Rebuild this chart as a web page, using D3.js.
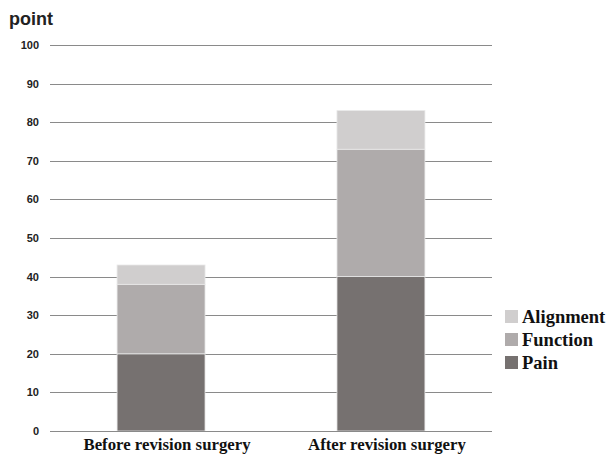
<!DOCTYPE html>
<html><head><meta charset="utf-8">
<script src="https://cdn.jsdelivr.net/npm/d3@7"></script>
<style>body{margin:0;background:#fff}svg{display:block}</style>
</head><body>
<svg id="c" width="608" height="455"></svg>
<script>
const categories = ["Before revision surgery", "After revision surgery"];
const seriesNames = ["Pain", "Function", "Alignment"];
const pain = [20, 40];
const func = [18, 33];
const alignment = [5, 10];
const yTicks = [0,10,20,30,40,50,60,70,80,90,100];
const colors = {"Pain":"#767170","Function":"#AFABAB","Alignment":"#D0CECE"};

const svg = d3.select("#c");
const x0 = 50, x1 = 492;
const y = d3.scaleLinear().domain([0,100]).range([431,45]);
const x = d3.scaleBand().domain(categories).range([x0,x1]).paddingInner(0.6).paddingOuter(0.305);

const rows = categories.map((c,i)=>({cat:c, Pain:pain[i], Function:func[i], Alignment:alignment[i]}));
const stacked = d3.stack().keys(seriesNames)(rows);

// grid
svg.append("g").selectAll("line").data(yTicks).join("line")
  .attr("x1",x0).attr("x2",x1).attr("y1",d=>Math.round(y(d))+0.5).attr("y2",d=>Math.round(y(d))+0.5)
  .attr("stroke","#8a8a8a").attr("stroke-width",1);

// y labels
svg.append("g").selectAll("text").data(yTicks).join("text")
  .attr("x",39).attr("y",d=>y(d)+4).attr("text-anchor","end")
  .attr("font-family","Arial, 'Liberation Sans', sans-serif").attr("font-size",11).attr("font-weight","bold")
  .attr("fill","#222").text(d=>d);

// bars
svg.append("g").selectAll("g").data(stacked).join("g")
  .attr("fill",d=>colors[d.key])
  .selectAll("rect").data(d=>d).join("rect")
  .attr("x",d=>x(d.data.cat)).attr("width",x.bandwidth())
  .attr("y",d=>y(d[1])).attr("height",d=>y(d[0])-y(d[1]))
  .attr("stroke","#e8e8e8").attr("stroke-width",0.8);

// axis baseline
svg.append("line").attr("x1",x0).attr("x2",x1).attr("y1",431.5).attr("y2",431.5).attr("stroke","#8a8a8a");

// category labels
svg.append("g").selectAll("text").data(categories).join("text")
  .attr("x",d=>x(d)+x.bandwidth()/2 + 6).attr("y",450).attr("text-anchor","middle")
  .attr("font-family","'Liberation Serif', 'Times New Roman', serif").attr("font-weight","bold").attr("font-size",16.8)
  .attr("fill","#111").text(d=>d);

// y title
svg.append("text").attr("x",9).attr("y",25).attr("font-family","Arial, 'Liberation Sans', sans-serif")
  .attr("font-size",18).attr("font-weight","600").attr("fill","#222").text("point");

// legend
const legendOrder = ["Alignment","Function","Pain"];
const lg = svg.append("g").selectAll("g").data(legendOrder).join("g")
  .attr("transform",(d,i)=>`translate(505,${310+i*23})`);
lg.append("rect").attr("width",13).attr("height",13).attr("fill",d=>colors[d]);
lg.append("text").attr("x",17).attr("y",13).attr("font-family","'Liberation Serif', 'Times New Roman', serif")
  .attr("font-weight","bold").attr("font-size",18.5).attr("fill","#111").text(d=>d);
</script>
</body></html>
